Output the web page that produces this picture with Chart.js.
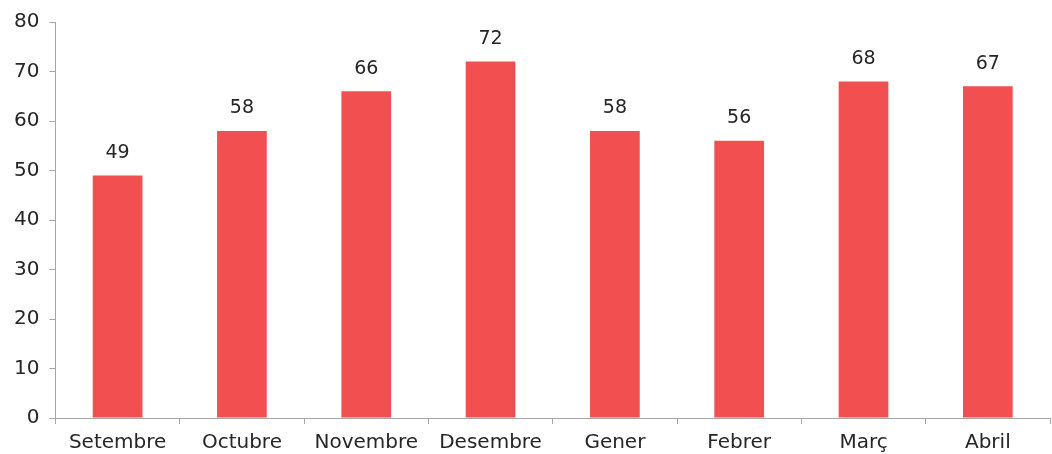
<!DOCTYPE html>
<html>
<head>
<meta charset="utf-8">
<script src="https://cdn.jsdelivr.net/npm/chart.js@4"></script>
<style>
  html, body { margin: 0; padding: 0; background: #fff; }
  #wrap { width: 1052px; height: 454px; }
</style>
</head>
<body>
<div id="wrap"><canvas id="barChart"></canvas></div>
<script>
const months = ['Setembre', 'Octubre', 'Novembre', 'Desembre', 'Gener', 'Febrer', 'Març', 'Abril'];
const counts = [49, 58, 66, 72, 58, 56, 68, 67];

const FONT = "'DejaVu Sans', sans-serif";
const AXIS = '#a6a6a6';
const TXT = '#262626';

// draws the value above each bar
const valueLabels = {
    id: 'valueLabels',
    afterDatasetsDraw(chart) {
        const ctx = chart.ctx;
        const meta = chart.getDatasetMeta(0);
        ctx.save();
        ctx.font = `19px ${FONT}`;
        ctx.fillStyle = TXT;
        ctx.textAlign = 'center';
        ctx.textBaseline = 'bottom';
        meta.data.forEach((bar, i) => {
            ctx.fillText(counts[i], bar.x, bar.y - 13);
        });
        ctx.restore();
    }
};

new Chart(document.getElementById('barChart'), {
    type: 'bar',
    data: {
        labels: months,
        datasets: [{
            data: counts,
            backgroundColor: '#f25050',
            borderWidth: 0,
            barPercentage: 0.4,
            categoryPercentage: 1
        }]
    },
    options: {
        responsive: true,
        maintainAspectRatio: false,
        animation: false,
        layout: { padding: { top: 13, right: 2, left: 4, bottom: 0 } },
        plugins: { legend: { display: false }, tooltip: { enabled: false } },
        scales: {
            x: {
                offset: true,
                afterFit(scale) { scale.height = 36; },
                grid: { offset: true, drawOnChartArea: false, color: AXIS, tickLength: 6 },
                border: { color: AXIS },
                ticks: { color: TXT, font: { family: FONT, size: 20, lineHeight: 0.9 }, padding: 10, maxRotation: 0 }
            },
            y: {
                min: 0, max: 80,
                ticks: { stepSize: 10, color: TXT, font: { family: FONT, size: 20 }, padding: 10 },
                grid: { drawOnChartArea: false, color: AXIS, tickLength: 6 },
                border: { color: AXIS }
            }
        }
    },
    plugins: [valueLabels]
});
</script>
</body>
</html>
